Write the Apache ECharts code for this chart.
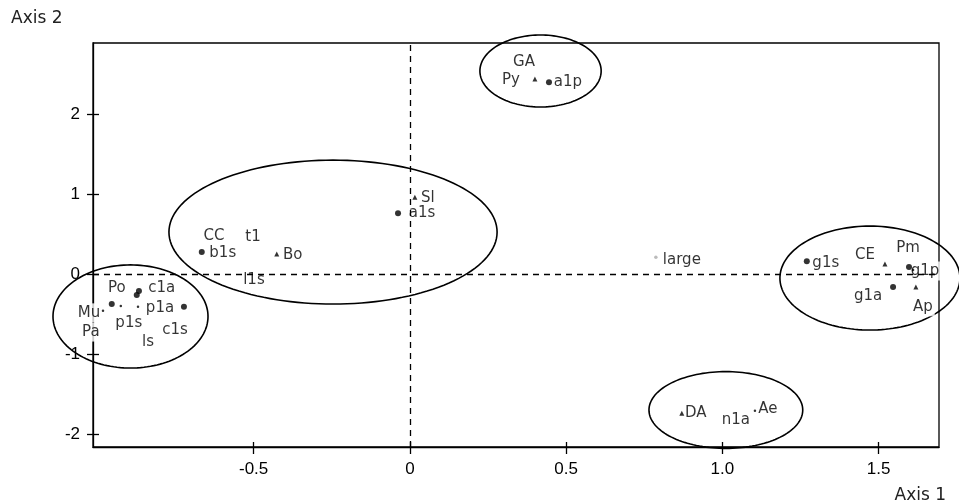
<!DOCTYPE html>
<html><head><meta charset="utf-8">
<script src="https://cdn.jsdelivr.net/npm/echarts@6/dist/echarts.min.js"></script>
<style>html,body{margin:0;padding:0;background:#fff}#c{width:959px;height:504px}</style>
</head><body><div id="c"></div>
<script>
// ---- data ----
const xTicks = [-0.5, 0, 0.5, 1.0, 1.5];
const yTicks = [-2, -1, 0, 1, 2];
const names = ["GA","Py","a1p","Sl","a1s","CC","t1","b1s","Bo","l1s","large","g1s","CE","Pm","g1p","g1a","Ap","DA","n1a","Ae","Po","c1a","","p1a","Mu","p1s","c1s","Pa","ls"];
const xs = [0.365,0.400,0.445,0.016,-0.038,-0.627,-0.502,-0.666,-0.426,-0.499,0.787,1.270,1.520,1.610,1.597,1.546,1.619,0.870,1.043,1.104,-0.954,-0.874,-0.867,-0.870,-0.982,-0.925,-0.723,-1.021,-0.838];
const ys = [2.65,2.44,2.40,0.96,0.76,0.475,0.46,0.275,0.25,-0.075,0.21,0.16,0.125,0.05,0.09,-0.16,-0.16,-1.74,-1.825,-1.71,-0.375,-0.26,-0.21,-0.41,-0.46,-0.40,-0.41,-0.725,-0.85];
const kinds = ["none","tri","circle","tri","circle","none","none","circle","tri","none","gray","circle","tri","tiny","circle","circle","tri","tri","none","tiny","circle","circle","circle","tiny","tiny","tiny","circle","none","none"];
// group ellipses: centre x, centre y, radius x, radius y (axis units)
const ellCx = [-0.894, -0.246, 0.418, 1.472, 1.011];
const ellCy = [-0.53, 0.525, 2.54, -0.05, -1.70];
const ellRx = [0.248, 0.525, 0.194, 0.288, 0.246];
const ellRy = [0.645, 0.90, 0.45, 0.65, 0.48];

// ---- styles ----
const markerStyle = {
  circle: {symbol:'circle', size:6, color:'#000'},
  tri: {symbol:'triangle', size:5, color:'#000'},
  tiny: {symbol:'circle', size:2.5, color:'#000'},
  gray: {symbol:'circle', size:3.5, color:'#aaa'},
  none: {symbol:'circle', size:0, color:'#000'}
};
const labelOffsets = {Py:[-24,1], a1p:[19,0], Sl:[13,1], a1s:[24,0], b1s:[21,1], Bo:[16,1], large:[26,3], g1s:[19,2], CE:[-20,-9], Pm:[-5,-22], g1p:[16,4], g1a:[-25,9], Ap:[7,20], DA:[14,0], Ae:[13,-2], Po:[5,-16], c1a:[25,-7], p1a:[22,1], Mu:[-14,2], p1s:[8,17], c1s:[-9,23]};
const tickFont = "'Liberation Sans Narrow','Liberation Sans',Arial,sans-serif";
const labelFont = "'DejaVu Sans',sans-serif";

const markerData = [], labelData = [];
names.forEach((n, i) => {
  const st = markerStyle[kinds[i]];
  if (kinds[i] !== 'none') {
    markerData.push({value:[xs[i], ys[i]], symbol:st.symbol, symbolSize:st.size, itemStyle:{color:st.color}});
  }
  if (n) {
    const off = labelOffsets[n] || [0,0];
    labelData.push({value:[xs[i], ys[i]], name:n, label:{offset:off}});
  }
});
const ellData = ellCx.map((c, i) => [c, ellCy[i], ellRx[i], ellRy[i]]);

const chart = echarts.init(document.getElementById('c'), null, {renderer:'canvas'});
const xMin = -1.014, xMax = 1.693, yMin = -2.1625, yMax = 2.89;
chart.setOption({
  animation:false,
  backgroundColor:'#fff',
  grid:{left:93, right:20, top:43, bottom:57, show:true, borderColor:'#000', borderWidth:1.3},
  xAxis:[
    {type:'value', position:'bottom', min:xMin, max:xMax, splitLine:{show:false},
     axisLine:{show:true, onZero:false, lineStyle:{color:'#000', width:1.3}},
     axisTick:{show:true, inside:false, length:7, customValues:xTicks, lineStyle:{color:'#000', width:1.3}},
     axisLabel:{show:true, customValues:xTicks, margin:14, color:'#000', fontSize:17, fontFamily:tickFont,
       formatter:v => v === 0 ? '0' : v.toFixed(1)}},
    {type:'value', position:'bottom', min:xMin, max:xMax, splitLine:{show:false},
     axisLine:{show:false, onZero:false},
     axisTick:{show:true, inside:true, length:5, customValues:xTicks, lineStyle:{color:'#000', width:1.3}},
     axisLabel:{show:false}}
  ],
  yAxis:[
    {type:'value', position:'left', min:yMin, max:yMax, splitLine:{show:false},
     axisLine:{show:true, onZero:false, lineStyle:{color:'#000', width:1.3}},
     axisTick:{show:true, inside:false, length:6, customValues:yTicks, lineStyle:{color:'#000', width:1.3}},
     axisLabel:{show:true, customValues:yTicks, margin:13, color:'#000', fontSize:17, fontFamily:tickFont,
       formatter:v => String(v)}},
    {type:'value', position:'left', min:yMin, max:yMax, splitLine:{show:false},
     axisLine:{show:false, onZero:false},
     axisTick:{show:true, inside:true, length:6, customValues:yTicks, lineStyle:{color:'#000', width:1.3}},
     axisLabel:{show:false}}
  ],
  graphic:[
    {type:'text', left:11, top:10, style:{text:'Axis 2', font:"17px 'DejaVu Sans', sans-serif", fill:'#222'}},
    {type:'text', right:13, top:487, style:{text:'Axis 1', font:"17px 'DejaVu Sans', sans-serif", fill:'#222'}}
  ],
  series:[
    {type:'line', data:[], z:1, silent:true,
     markLine:{silent:true, symbol:['none','none'], label:{show:false},
       lineStyle:{color:'#000', type:[6,5], width:1.3},
       data:[{xAxis:0},{yAxis:0}]}},
    {type:'custom', z:2, clip:false, silent:true, data:ellData,
     renderItem:(params, api) => {
       const cx = api.value(0), cy = api.value(1), rx = api.value(2), ry = api.value(3);
       const c = api.coord([cx, cy]);
       const px = api.coord([cx + rx, cy])[0] - c[0];
       const py = c[1] - api.coord([cx, cy + ry])[1];
       const pts = [];
       for (let k = 0; k < 144; k++) {
         const t = k / 144 * Math.PI * 2;
         pts.push([c[0] + px * Math.cos(t), c[1] + py * Math.sin(t)]);
       }
       return {type:'polygon', shape:{points:pts}, style:{fill:'none', stroke:'#000', lineWidth:1.6}};
     }},
    {type:'scatter', z:3, clip:false, silent:true, symbolSize:0, data:labelData,
     label:{show:true, position:'inside', formatter:p => p.name, color:'#000', fontSize:15,
       fontFamily:labelFont, backgroundColor:'#fff', padding:[2,2]}},
    {type:'scatter', z:4, clip:false, silent:true, data:markerData}
  ]
});
</script></body></html>
